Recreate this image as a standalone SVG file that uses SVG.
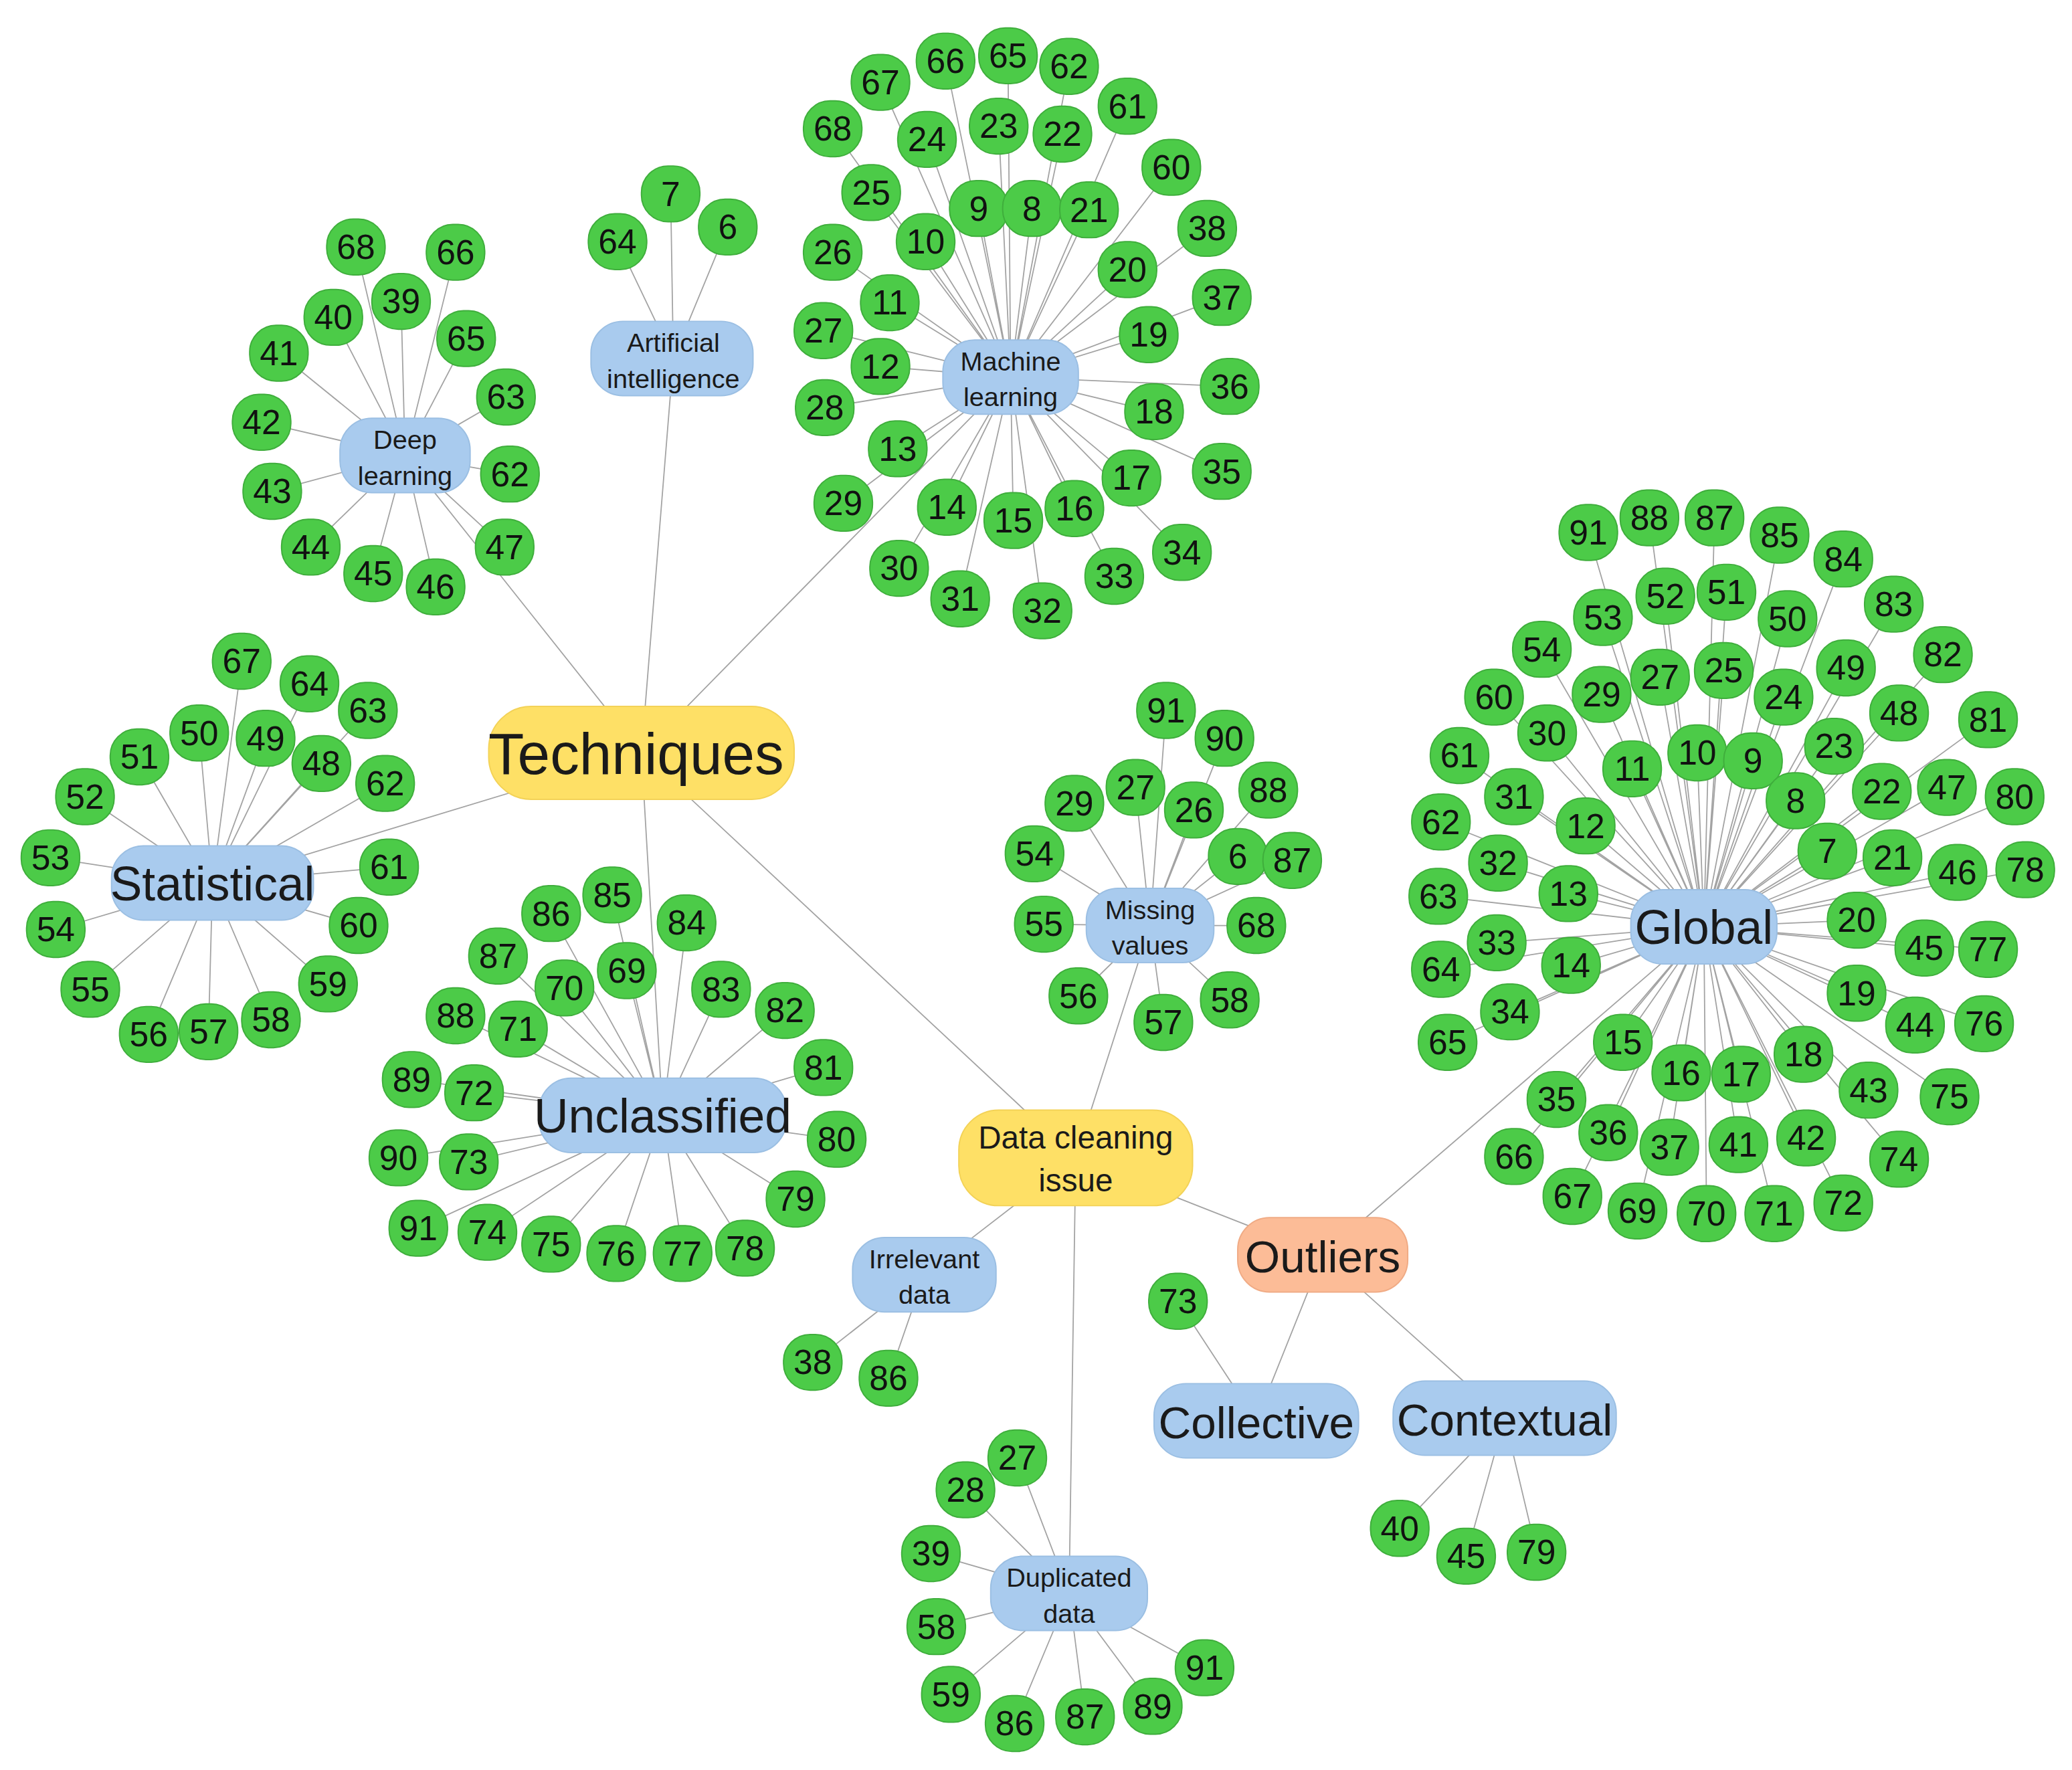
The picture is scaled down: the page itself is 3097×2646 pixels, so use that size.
<svg xmlns="http://www.w3.org/2000/svg" width="3097" height="2646" viewBox="0 0 3097 2646">
<style>
.l{fill:#4ccb48;stroke:#3fae3c;stroke-width:1}
.n{font-family:"Liberation Sans",Arial,sans-serif;font-size:26px;text-anchor:middle;fill:#111}
.b{fill:#a9cbee;stroke:#9bbfe3;stroke-width:1}
.y{fill:#fee066;stroke:#f3d257;stroke-width:1}
.o{fill:#fcbc97;stroke:#f0ab85;stroke-width:1}
.h{font-family:"Liberation Sans",Arial,sans-serif;text-anchor:middle;fill:#1a1a1a}
.c{stroke:#a3a3a3;stroke-width:0.9;fill:none}
</style>
<rect width="3097" height="2646" fill="#fff"/>
<g transform="scale(1.985)">
<g id="connectors" class="c">
<path d="M483 567L507 270M483 567L761 284M483 567L305 343M483 567L160 665M483 567L499 840M483 567L810 872M810 872L866 697M810 872L696 960M810 872L805 1200M810 872L996 945M996 945L1283 698M996 945L946 1070M996 945L1133 1068"/>
<path d="M507 270L465 182M507 270L505 146M507 270L548 171"/>
<path d="M761 284L663 62M761 284L712 46M761 284L759 42M761 284L805 50M761 284L849 80M761 284L627 97M761 284L698 105M761 284L752 95M761 284L800 101M761 284L882 126M761 284L656 145M761 284L737 157M761 284L777 157M761 284L820 158M761 284L909 172M761 284L697 182M761 284L627 190M761 284L849 203M761 284L920 224M761 284L670 228M761 284L620 249M761 284L865 252M761 284L663 276M761 284L926 291M761 284L621 307M761 284L869 310M761 284L676 338M761 284L920 355M761 284L852 360M761 284L635 379M761 284L713 382M761 284L763 392M761 284L809 383M761 284L890 416M761 284L677 428M761 284L723 451M761 284L839 434M761 284L785 460"/>
<path d="M305 343L268 186M305 343L343 190M305 343L302 227M305 343L251 239M305 343L351 255M305 343L210 266M305 343L381 299M305 343L197 318M305 343L384 357M305 343L205 370M305 343L380 412M305 343L234 412M305 343L281 432M305 343L328 442"/>
<path d="M160 665L182 498M160 665L233 515M160 665L277 535M160 665L150 552M160 665L200 556M160 665L105 570M160 665L242 575M160 665L290 590M160 665L64 600M160 665L38 646M160 665L293 653M160 665L42 700M160 665L270 697M160 665L68 745M160 665L247 741M160 665L112 779M160 665L157 777M160 665L204 768"/>
<path d="M499 840L415 688M499 840L461 674M499 840L517 695M499 840L375 720M499 840L425 744M499 840L472 731M499 840L543 745M499 840L591 761M499 840L343 765M499 840L390 775M499 840L620 804M499 840L310 813M499 840L357 823M499 840L630 858M499 840L300 872M499 840L353 875M499 840L599 903M499 840L315 925M499 840L367 928M499 840L561 940M499 840L415 937M499 840L464 944M499 840L514 944"/>
<path d="M866 697L878 535M866 697L922 556M866 697L855 593M866 697L809 605M866 697L899 610M866 697L955 595M866 697L779 643M866 697L932 645M866 697L973 648M866 697L786 696M866 697L946 697M866 697L812 750M866 697L926 753M866 697L876 770"/>
<path d="M696 960L612 1026M696 960L669 1038"/>
<path d="M805 1200L766 1098M805 1200L727 1122M805 1200L701 1170M805 1200L705 1225M805 1200L716 1276M805 1200L764 1298M805 1200L817 1293M805 1200L868 1285M805 1200L907 1256"/>
<path d="M946 1070L887 980M1133 1068L1054 1151M1133 1068L1104 1172M1133 1068L1157 1169"/>
<path d="M1283 698L1196 401M1283 698L1242 390M1283 698L1291 390M1283 698L1340 403M1283 698L1388 421M1283 698L1207 465M1283 698L1254 449M1283 698L1300 446M1283 698L1346 466M1283 698L1426 455M1283 698L1161 489M1283 698L1390 503M1283 698L1463 493M1283 698L1206 523M1283 698L1250 510M1283 698L1298 505M1283 698L1343 525M1283 698L1125 525M1283 698L1165 552M1283 698L1430 537M1283 698L1497 542M1283 698L1229 579M1283 698L1278 567M1283 698L1320 573M1283 698L1381 562M1283 698L1099 569M1283 698L1140 600M1283 698L1417 596M1283 698L1466 593M1283 698L1517 600M1283 698L1352 603M1283 698L1085 619M1283 698L1194 622M1283 698L1376 641M1283 698L1425 646M1283 698L1474 657M1283 698L1525 655M1283 698L1128 650M1283 698L1181 673M1283 698L1083 675M1283 698L1398 693M1283 698L1449 714M1283 698L1497 715M1283 698L1127 710M1283 698L1183 727M1283 698L1085 730M1283 698L1398 748M1283 698L1442 772M1283 698L1494 771M1283 698L1137 762M1283 698L1090 785M1283 698L1222 785M1283 698L1266 808M1283 698L1311 809M1283 698L1358 794M1283 698L1407 821M1283 698L1468 826M1283 698L1172 828M1283 698L1211 853M1283 698L1257 864M1283 698L1309 862M1283 698L1360 857M1283 698L1430 873M1283 698L1140 871M1283 698L1184 901M1283 698L1233 912M1283 698L1285 914M1283 698L1336 914M1283 698L1388 906"/>
</g>
<g id="hubs">
<g id="techniques"><rect class="y" x="368" y="532" width="230" height="70" rx="32"/><text class="h" x="479" y="583" font-size="44">Techniques</text></g>
<g id="ai"><rect class="b" x="445" y="242" width="122" height="56" rx="24"/><text class="h" x="507" y="265" font-size="20">Artificial</text><text class="h" x="507" y="292" font-size="20">intelligence</text></g>
<g id="ml"><rect class="b" x="710" y="256" width="102" height="56" rx="24"/><text class="h" x="761" y="279" font-size="20">Machine</text><text class="h" x="761" y="306" font-size="20">learning</text></g>
<g id="dl"><rect class="b" x="256" y="315" width="98" height="56" rx="24"/><text class="h" x="305" y="338" font-size="20">Deep</text><text class="h" x="305" y="365" font-size="20">learning</text></g>
<g id="statistical"><rect class="b" x="84" y="637" width="152" height="56" rx="24"/><text class="h" x="160" y="678" font-size="36">Statistical</text></g>
<g id="unclassified"><rect class="b" x="406" y="812" width="186" height="56" rx="24"/><text class="h" x="499" y="853" font-size="36">Unclassified</text></g>
<g id="dci"><rect class="y" x="722" y="836" width="176" height="72" rx="30"/><text class="h" x="810" y="865" font-size="24">Data cleaning</text><text class="h" x="810" y="897" font-size="24">issue</text></g>
<g id="missing"><rect class="b" x="818" y="669" width="96" height="56" rx="24"/><text class="h" x="866" y="692" font-size="20">Missing</text><text class="h" x="866" y="719" font-size="20">values</text></g>
<g id="irrelevant"><rect class="b" x="642" y="932" width="108" height="56" rx="24"/><text class="h" x="696" y="955" font-size="20">Irrelevant</text><text class="h" x="696" y="982" font-size="20">data</text></g>
<g id="duplicated"><rect class="b" x="746" y="1172" width="118" height="56" rx="24"/><text class="h" x="805" y="1195" font-size="20">Duplicated</text><text class="h" x="805" y="1222" font-size="20">data</text></g>
<g id="outliers"><rect class="o" x="932" y="917" width="128" height="56" rx="24"/><text class="h" x="996" y="958" font-size="34">Outliers</text></g>
<g id="global"><rect class="b" x="1228" y="670" width="110" height="56" rx="24"/><text class="h" x="1283" y="711" font-size="36">Global</text></g>
<g id="collective"><rect class="b" x="869" y="1042" width="154" height="56" rx="24"/><text class="h" x="946" y="1083" font-size="34">Collective</text></g>
<g id="contextual"><rect class="b" x="1049" y="1040" width="168" height="56" rx="24"/><text class="h" x="1133" y="1081" font-size="34">Contextual</text></g>
</g>
<g id="leaves">
<g id="ai-64" transform="translate(465,182)"><rect class="l" x="-22" y="-21" width="44" height="42" rx="20"/><text class="n" y="9">64</text></g>
<g id="ai-7" transform="translate(505,146)"><rect class="l" x="-22" y="-21" width="44" height="42" rx="20"/><text class="n" y="9">7</text></g>
<g id="ai-6" transform="translate(548,171)"><rect class="l" x="-22" y="-21" width="44" height="42" rx="20"/><text class="n" y="9">6</text></g>
<g id="ml-67" transform="translate(663,62)"><rect class="l" x="-22" y="-21" width="44" height="42" rx="20"/><text class="n" y="9">67</text></g>
<g id="ml-66" transform="translate(712,46)"><rect class="l" x="-22" y="-21" width="44" height="42" rx="20"/><text class="n" y="9">66</text></g>
<g id="ml-65" transform="translate(759,42)"><rect class="l" x="-22" y="-21" width="44" height="42" rx="20"/><text class="n" y="9">65</text></g>
<g id="ml-62" transform="translate(805,50)"><rect class="l" x="-22" y="-21" width="44" height="42" rx="20"/><text class="n" y="9">62</text></g>
<g id="ml-61" transform="translate(849,80)"><rect class="l" x="-22" y="-21" width="44" height="42" rx="20"/><text class="n" y="9">61</text></g>
<g id="ml-68" transform="translate(627,97)"><rect class="l" x="-22" y="-21" width="44" height="42" rx="20"/><text class="n" y="9">68</text></g>
<g id="ml-24" transform="translate(698,105)"><rect class="l" x="-22" y="-21" width="44" height="42" rx="20"/><text class="n" y="9">24</text></g>
<g id="ml-23" transform="translate(752,95)"><rect class="l" x="-22" y="-21" width="44" height="42" rx="20"/><text class="n" y="9">23</text></g>
<g id="ml-22" transform="translate(800,101)"><rect class="l" x="-22" y="-21" width="44" height="42" rx="20"/><text class="n" y="9">22</text></g>
<g id="ml-60" transform="translate(882,126)"><rect class="l" x="-22" y="-21" width="44" height="42" rx="20"/><text class="n" y="9">60</text></g>
<g id="ml-25" transform="translate(656,145)"><rect class="l" x="-22" y="-21" width="44" height="42" rx="20"/><text class="n" y="9">25</text></g>
<g id="ml-9" transform="translate(737,157)"><rect class="l" x="-22" y="-21" width="44" height="42" rx="20"/><text class="n" y="9">9</text></g>
<g id="ml-8" transform="translate(777,157)"><rect class="l" x="-22" y="-21" width="44" height="42" rx="20"/><text class="n" y="9">8</text></g>
<g id="ml-21" transform="translate(820,158)"><rect class="l" x="-22" y="-21" width="44" height="42" rx="20"/><text class="n" y="9">21</text></g>
<g id="ml-38" transform="translate(909,172)"><rect class="l" x="-22" y="-21" width="44" height="42" rx="20"/><text class="n" y="9">38</text></g>
<g id="ml-10" transform="translate(697,182)"><rect class="l" x="-22" y="-21" width="44" height="42" rx="20"/><text class="n" y="9">10</text></g>
<g id="ml-26" transform="translate(627,190)"><rect class="l" x="-22" y="-21" width="44" height="42" rx="20"/><text class="n" y="9">26</text></g>
<g id="ml-20" transform="translate(849,203)"><rect class="l" x="-22" y="-21" width="44" height="42" rx="20"/><text class="n" y="9">20</text></g>
<g id="ml-37" transform="translate(920,224)"><rect class="l" x="-22" y="-21" width="44" height="42" rx="20"/><text class="n" y="9">37</text></g>
<g id="ml-11" transform="translate(670,228)"><rect class="l" x="-22" y="-21" width="44" height="42" rx="20"/><text class="n" y="9">11</text></g>
<g id="ml-27" transform="translate(620,249)"><rect class="l" x="-22" y="-21" width="44" height="42" rx="20"/><text class="n" y="9">27</text></g>
<g id="ml-19" transform="translate(865,252)"><rect class="l" x="-22" y="-21" width="44" height="42" rx="20"/><text class="n" y="9">19</text></g>
<g id="ml-12" transform="translate(663,276)"><rect class="l" x="-22" y="-21" width="44" height="42" rx="20"/><text class="n" y="9">12</text></g>
<g id="ml-36" transform="translate(926,291)"><rect class="l" x="-22" y="-21" width="44" height="42" rx="20"/><text class="n" y="9">36</text></g>
<g id="ml-28" transform="translate(621,307)"><rect class="l" x="-22" y="-21" width="44" height="42" rx="20"/><text class="n" y="9">28</text></g>
<g id="ml-18" transform="translate(869,310)"><rect class="l" x="-22" y="-21" width="44" height="42" rx="20"/><text class="n" y="9">18</text></g>
<g id="ml-13" transform="translate(676,338)"><rect class="l" x="-22" y="-21" width="44" height="42" rx="20"/><text class="n" y="9">13</text></g>
<g id="ml-35" transform="translate(920,355)"><rect class="l" x="-22" y="-21" width="44" height="42" rx="20"/><text class="n" y="9">35</text></g>
<g id="ml-17" transform="translate(852,360)"><rect class="l" x="-22" y="-21" width="44" height="42" rx="20"/><text class="n" y="9">17</text></g>
<g id="ml-29" transform="translate(635,379)"><rect class="l" x="-22" y="-21" width="44" height="42" rx="20"/><text class="n" y="9">29</text></g>
<g id="ml-14" transform="translate(713,382)"><rect class="l" x="-22" y="-21" width="44" height="42" rx="20"/><text class="n" y="9">14</text></g>
<g id="ml-15" transform="translate(763,392)"><rect class="l" x="-22" y="-21" width="44" height="42" rx="20"/><text class="n" y="9">15</text></g>
<g id="ml-16" transform="translate(809,383)"><rect class="l" x="-22" y="-21" width="44" height="42" rx="20"/><text class="n" y="9">16</text></g>
<g id="ml-34" transform="translate(890,416)"><rect class="l" x="-22" y="-21" width="44" height="42" rx="20"/><text class="n" y="9">34</text></g>
<g id="ml-30" transform="translate(677,428)"><rect class="l" x="-22" y="-21" width="44" height="42" rx="20"/><text class="n" y="9">30</text></g>
<g id="ml-31" transform="translate(723,451)"><rect class="l" x="-22" y="-21" width="44" height="42" rx="20"/><text class="n" y="9">31</text></g>
<g id="ml-33" transform="translate(839,434)"><rect class="l" x="-22" y="-21" width="44" height="42" rx="20"/><text class="n" y="9">33</text></g>
<g id="ml-32" transform="translate(785,460)"><rect class="l" x="-22" y="-21" width="44" height="42" rx="20"/><text class="n" y="9">32</text></g>
<g id="dl-68" transform="translate(268,186)"><rect class="l" x="-22" y="-21" width="44" height="42" rx="20"/><text class="n" y="9">68</text></g>
<g id="dl-66" transform="translate(343,190)"><rect class="l" x="-22" y="-21" width="44" height="42" rx="20"/><text class="n" y="9">66</text></g>
<g id="dl-39" transform="translate(302,227)"><rect class="l" x="-22" y="-21" width="44" height="42" rx="20"/><text class="n" y="9">39</text></g>
<g id="dl-40" transform="translate(251,239)"><rect class="l" x="-22" y="-21" width="44" height="42" rx="20"/><text class="n" y="9">40</text></g>
<g id="dl-65" transform="translate(351,255)"><rect class="l" x="-22" y="-21" width="44" height="42" rx="20"/><text class="n" y="9">65</text></g>
<g id="dl-41" transform="translate(210,266)"><rect class="l" x="-22" y="-21" width="44" height="42" rx="20"/><text class="n" y="9">41</text></g>
<g id="dl-63" transform="translate(381,299)"><rect class="l" x="-22" y="-21" width="44" height="42" rx="20"/><text class="n" y="9">63</text></g>
<g id="dl-42" transform="translate(197,318)"><rect class="l" x="-22" y="-21" width="44" height="42" rx="20"/><text class="n" y="9">42</text></g>
<g id="dl-62" transform="translate(384,357)"><rect class="l" x="-22" y="-21" width="44" height="42" rx="20"/><text class="n" y="9">62</text></g>
<g id="dl-43" transform="translate(205,370)"><rect class="l" x="-22" y="-21" width="44" height="42" rx="20"/><text class="n" y="9">43</text></g>
<g id="dl-47" transform="translate(380,412)"><rect class="l" x="-22" y="-21" width="44" height="42" rx="20"/><text class="n" y="9">47</text></g>
<g id="dl-44" transform="translate(234,412)"><rect class="l" x="-22" y="-21" width="44" height="42" rx="20"/><text class="n" y="9">44</text></g>
<g id="dl-45" transform="translate(281,432)"><rect class="l" x="-22" y="-21" width="44" height="42" rx="20"/><text class="n" y="9">45</text></g>
<g id="dl-46" transform="translate(328,442)"><rect class="l" x="-22" y="-21" width="44" height="42" rx="20"/><text class="n" y="9">46</text></g>
<g id="st-67" transform="translate(182,498)"><rect class="l" x="-22" y="-21" width="44" height="42" rx="20"/><text class="n" y="9">67</text></g>
<g id="st-64" transform="translate(233,515)"><rect class="l" x="-22" y="-21" width="44" height="42" rx="20"/><text class="n" y="9">64</text></g>
<g id="st-63" transform="translate(277,535)"><rect class="l" x="-22" y="-21" width="44" height="42" rx="20"/><text class="n" y="9">63</text></g>
<g id="st-50" transform="translate(150,552)"><rect class="l" x="-22" y="-21" width="44" height="42" rx="20"/><text class="n" y="9">50</text></g>
<g id="st-49" transform="translate(200,556)"><rect class="l" x="-22" y="-21" width="44" height="42" rx="20"/><text class="n" y="9">49</text></g>
<g id="st-51" transform="translate(105,570)"><rect class="l" x="-22" y="-21" width="44" height="42" rx="20"/><text class="n" y="9">51</text></g>
<g id="st-48" transform="translate(242,575)"><rect class="l" x="-22" y="-21" width="44" height="42" rx="20"/><text class="n" y="9">48</text></g>
<g id="st-62" transform="translate(290,590)"><rect class="l" x="-22" y="-21" width="44" height="42" rx="20"/><text class="n" y="9">62</text></g>
<g id="st-52" transform="translate(64,600)"><rect class="l" x="-22" y="-21" width="44" height="42" rx="20"/><text class="n" y="9">52</text></g>
<g id="st-53" transform="translate(38,646)"><rect class="l" x="-22" y="-21" width="44" height="42" rx="20"/><text class="n" y="9">53</text></g>
<g id="st-61" transform="translate(293,653)"><rect class="l" x="-22" y="-21" width="44" height="42" rx="20"/><text class="n" y="9">61</text></g>
<g id="st-54" transform="translate(42,700)"><rect class="l" x="-22" y="-21" width="44" height="42" rx="20"/><text class="n" y="9">54</text></g>
<g id="st-60" transform="translate(270,697)"><rect class="l" x="-22" y="-21" width="44" height="42" rx="20"/><text class="n" y="9">60</text></g>
<g id="st-55" transform="translate(68,745)"><rect class="l" x="-22" y="-21" width="44" height="42" rx="20"/><text class="n" y="9">55</text></g>
<g id="st-59" transform="translate(247,741)"><rect class="l" x="-22" y="-21" width="44" height="42" rx="20"/><text class="n" y="9">59</text></g>
<g id="st-56" transform="translate(112,779)"><rect class="l" x="-22" y="-21" width="44" height="42" rx="20"/><text class="n" y="9">56</text></g>
<g id="st-57" transform="translate(157,777)"><rect class="l" x="-22" y="-21" width="44" height="42" rx="20"/><text class="n" y="9">57</text></g>
<g id="st-58" transform="translate(204,768)"><rect class="l" x="-22" y="-21" width="44" height="42" rx="20"/><text class="n" y="9">58</text></g>
<g id="un-86" transform="translate(415,688)"><rect class="l" x="-22" y="-21" width="44" height="42" rx="20"/><text class="n" y="9">86</text></g>
<g id="un-85" transform="translate(461,674)"><rect class="l" x="-22" y="-21" width="44" height="42" rx="20"/><text class="n" y="9">85</text></g>
<g id="un-84" transform="translate(517,695)"><rect class="l" x="-22" y="-21" width="44" height="42" rx="20"/><text class="n" y="9">84</text></g>
<g id="un-87" transform="translate(375,720)"><rect class="l" x="-22" y="-21" width="44" height="42" rx="20"/><text class="n" y="9">87</text></g>
<g id="un-70" transform="translate(425,744)"><rect class="l" x="-22" y="-21" width="44" height="42" rx="20"/><text class="n" y="9">70</text></g>
<g id="un-69" transform="translate(472,731)"><rect class="l" x="-22" y="-21" width="44" height="42" rx="20"/><text class="n" y="9">69</text></g>
<g id="un-83" transform="translate(543,745)"><rect class="l" x="-22" y="-21" width="44" height="42" rx="20"/><text class="n" y="9">83</text></g>
<g id="un-82" transform="translate(591,761)"><rect class="l" x="-22" y="-21" width="44" height="42" rx="20"/><text class="n" y="9">82</text></g>
<g id="un-88" transform="translate(343,765)"><rect class="l" x="-22" y="-21" width="44" height="42" rx="20"/><text class="n" y="9">88</text></g>
<g id="un-71" transform="translate(390,775)"><rect class="l" x="-22" y="-21" width="44" height="42" rx="20"/><text class="n" y="9">71</text></g>
<g id="un-81" transform="translate(620,804)"><rect class="l" x="-22" y="-21" width="44" height="42" rx="20"/><text class="n" y="9">81</text></g>
<g id="un-89" transform="translate(310,813)"><rect class="l" x="-22" y="-21" width="44" height="42" rx="20"/><text class="n" y="9">89</text></g>
<g id="un-72" transform="translate(357,823)"><rect class="l" x="-22" y="-21" width="44" height="42" rx="20"/><text class="n" y="9">72</text></g>
<g id="un-80" transform="translate(630,858)"><rect class="l" x="-22" y="-21" width="44" height="42" rx="20"/><text class="n" y="9">80</text></g>
<g id="un-90" transform="translate(300,872)"><rect class="l" x="-22" y="-21" width="44" height="42" rx="20"/><text class="n" y="9">90</text></g>
<g id="un-73" transform="translate(353,875)"><rect class="l" x="-22" y="-21" width="44" height="42" rx="20"/><text class="n" y="9">73</text></g>
<g id="un-79" transform="translate(599,903)"><rect class="l" x="-22" y="-21" width="44" height="42" rx="20"/><text class="n" y="9">79</text></g>
<g id="un-91" transform="translate(315,925)"><rect class="l" x="-22" y="-21" width="44" height="42" rx="20"/><text class="n" y="9">91</text></g>
<g id="un-74" transform="translate(367,928)"><rect class="l" x="-22" y="-21" width="44" height="42" rx="20"/><text class="n" y="9">74</text></g>
<g id="un-78" transform="translate(561,940)"><rect class="l" x="-22" y="-21" width="44" height="42" rx="20"/><text class="n" y="9">78</text></g>
<g id="un-75" transform="translate(415,937)"><rect class="l" x="-22" y="-21" width="44" height="42" rx="20"/><text class="n" y="9">75</text></g>
<g id="un-76" transform="translate(464,944)"><rect class="l" x="-22" y="-21" width="44" height="42" rx="20"/><text class="n" y="9">76</text></g>
<g id="un-77" transform="translate(514,944)"><rect class="l" x="-22" y="-21" width="44" height="42" rx="20"/><text class="n" y="9">77</text></g>
<g id="mv-91" transform="translate(878,535)"><rect class="l" x="-22" y="-21" width="44" height="42" rx="20"/><text class="n" y="9">91</text></g>
<g id="mv-90" transform="translate(922,556)"><rect class="l" x="-22" y="-21" width="44" height="42" rx="20"/><text class="n" y="9">90</text></g>
<g id="mv-27" transform="translate(855,593)"><rect class="l" x="-22" y="-21" width="44" height="42" rx="20"/><text class="n" y="9">27</text></g>
<g id="mv-29" transform="translate(809,605)"><rect class="l" x="-22" y="-21" width="44" height="42" rx="20"/><text class="n" y="9">29</text></g>
<g id="mv-26" transform="translate(899,610)"><rect class="l" x="-22" y="-21" width="44" height="42" rx="20"/><text class="n" y="9">26</text></g>
<g id="mv-88" transform="translate(955,595)"><rect class="l" x="-22" y="-21" width="44" height="42" rx="20"/><text class="n" y="9">88</text></g>
<g id="mv-54" transform="translate(779,643)"><rect class="l" x="-22" y="-21" width="44" height="42" rx="20"/><text class="n" y="9">54</text></g>
<g id="mv-6" transform="translate(932,645)"><rect class="l" x="-22" y="-21" width="44" height="42" rx="20"/><text class="n" y="9">6</text></g>
<g id="mv-87" transform="translate(973,648)"><rect class="l" x="-22" y="-21" width="44" height="42" rx="20"/><text class="n" y="9">87</text></g>
<g id="mv-55" transform="translate(786,696)"><rect class="l" x="-22" y="-21" width="44" height="42" rx="20"/><text class="n" y="9">55</text></g>
<g id="mv-68" transform="translate(946,697)"><rect class="l" x="-22" y="-21" width="44" height="42" rx="20"/><text class="n" y="9">68</text></g>
<g id="mv-56" transform="translate(812,750)"><rect class="l" x="-22" y="-21" width="44" height="42" rx="20"/><text class="n" y="9">56</text></g>
<g id="mv-58" transform="translate(926,753)"><rect class="l" x="-22" y="-21" width="44" height="42" rx="20"/><text class="n" y="9">58</text></g>
<g id="mv-57" transform="translate(876,770)"><rect class="l" x="-22" y="-21" width="44" height="42" rx="20"/><text class="n" y="9">57</text></g>
<g id="ir-38" transform="translate(612,1026)"><rect class="l" x="-22" y="-21" width="44" height="42" rx="20"/><text class="n" y="9">38</text></g>
<g id="ir-86" transform="translate(669,1038)"><rect class="l" x="-22" y="-21" width="44" height="42" rx="20"/><text class="n" y="9">86</text></g>
<g id="du-27" transform="translate(766,1098)"><rect class="l" x="-22" y="-21" width="44" height="42" rx="20"/><text class="n" y="9">27</text></g>
<g id="du-28" transform="translate(727,1122)"><rect class="l" x="-22" y="-21" width="44" height="42" rx="20"/><text class="n" y="9">28</text></g>
<g id="du-39" transform="translate(701,1170)"><rect class="l" x="-22" y="-21" width="44" height="42" rx="20"/><text class="n" y="9">39</text></g>
<g id="du-58" transform="translate(705,1225)"><rect class="l" x="-22" y="-21" width="44" height="42" rx="20"/><text class="n" y="9">58</text></g>
<g id="du-59" transform="translate(716,1276)"><rect class="l" x="-22" y="-21" width="44" height="42" rx="20"/><text class="n" y="9">59</text></g>
<g id="du-86" transform="translate(764,1298)"><rect class="l" x="-22" y="-21" width="44" height="42" rx="20"/><text class="n" y="9">86</text></g>
<g id="du-87" transform="translate(817,1293)"><rect class="l" x="-22" y="-21" width="44" height="42" rx="20"/><text class="n" y="9">87</text></g>
<g id="du-89" transform="translate(868,1285)"><rect class="l" x="-22" y="-21" width="44" height="42" rx="20"/><text class="n" y="9">89</text></g>
<g id="du-91" transform="translate(907,1256)"><rect class="l" x="-22" y="-21" width="44" height="42" rx="20"/><text class="n" y="9">91</text></g>
<g id="co-73" transform="translate(887,980)"><rect class="l" x="-22" y="-21" width="44" height="42" rx="20"/><text class="n" y="9">73</text></g>
<g id="cx-40" transform="translate(1054,1151)"><rect class="l" x="-22" y="-21" width="44" height="42" rx="20"/><text class="n" y="9">40</text></g>
<g id="cx-45" transform="translate(1104,1172)"><rect class="l" x="-22" y="-21" width="44" height="42" rx="20"/><text class="n" y="9">45</text></g>
<g id="cx-79" transform="translate(1157,1169)"><rect class="l" x="-22" y="-21" width="44" height="42" rx="20"/><text class="n" y="9">79</text></g>
<g id="gl-91" transform="translate(1196,401)"><rect class="l" x="-22" y="-21" width="44" height="42" rx="20"/><text class="n" y="9">91</text></g>
<g id="gl-88" transform="translate(1242,390)"><rect class="l" x="-22" y="-21" width="44" height="42" rx="20"/><text class="n" y="9">88</text></g>
<g id="gl-87" transform="translate(1291,390)"><rect class="l" x="-22" y="-21" width="44" height="42" rx="20"/><text class="n" y="9">87</text></g>
<g id="gl-85" transform="translate(1340,403)"><rect class="l" x="-22" y="-21" width="44" height="42" rx="20"/><text class="n" y="9">85</text></g>
<g id="gl-84" transform="translate(1388,421)"><rect class="l" x="-22" y="-21" width="44" height="42" rx="20"/><text class="n" y="9">84</text></g>
<g id="gl-53" transform="translate(1207,465)"><rect class="l" x="-22" y="-21" width="44" height="42" rx="20"/><text class="n" y="9">53</text></g>
<g id="gl-52" transform="translate(1254,449)"><rect class="l" x="-22" y="-21" width="44" height="42" rx="20"/><text class="n" y="9">52</text></g>
<g id="gl-51" transform="translate(1300,446)"><rect class="l" x="-22" y="-21" width="44" height="42" rx="20"/><text class="n" y="9">51</text></g>
<g id="gl-50" transform="translate(1346,466)"><rect class="l" x="-22" y="-21" width="44" height="42" rx="20"/><text class="n" y="9">50</text></g>
<g id="gl-83" transform="translate(1426,455)"><rect class="l" x="-22" y="-21" width="44" height="42" rx="20"/><text class="n" y="9">83</text></g>
<g id="gl-54" transform="translate(1161,489)"><rect class="l" x="-22" y="-21" width="44" height="42" rx="20"/><text class="n" y="9">54</text></g>
<g id="gl-49" transform="translate(1390,503)"><rect class="l" x="-22" y="-21" width="44" height="42" rx="20"/><text class="n" y="9">49</text></g>
<g id="gl-82" transform="translate(1463,493)"><rect class="l" x="-22" y="-21" width="44" height="42" rx="20"/><text class="n" y="9">82</text></g>
<g id="gl-29" transform="translate(1206,523)"><rect class="l" x="-22" y="-21" width="44" height="42" rx="20"/><text class="n" y="9">29</text></g>
<g id="gl-27" transform="translate(1250,510)"><rect class="l" x="-22" y="-21" width="44" height="42" rx="20"/><text class="n" y="9">27</text></g>
<g id="gl-25" transform="translate(1298,505)"><rect class="l" x="-22" y="-21" width="44" height="42" rx="20"/><text class="n" y="9">25</text></g>
<g id="gl-24" transform="translate(1343,525)"><rect class="l" x="-22" y="-21" width="44" height="42" rx="20"/><text class="n" y="9">24</text></g>
<g id="gl-60" transform="translate(1125,525)"><rect class="l" x="-22" y="-21" width="44" height="42" rx="20"/><text class="n" y="9">60</text></g>
<g id="gl-30" transform="translate(1165,552)"><rect class="l" x="-22" y="-21" width="44" height="42" rx="20"/><text class="n" y="9">30</text></g>
<g id="gl-48" transform="translate(1430,537)"><rect class="l" x="-22" y="-21" width="44" height="42" rx="20"/><text class="n" y="9">48</text></g>
<g id="gl-81" transform="translate(1497,542)"><rect class="l" x="-22" y="-21" width="44" height="42" rx="20"/><text class="n" y="9">81</text></g>
<g id="gl-11" transform="translate(1229,579)"><rect class="l" x="-22" y="-21" width="44" height="42" rx="20"/><text class="n" y="9">11</text></g>
<g id="gl-10" transform="translate(1278,567)"><rect class="l" x="-22" y="-21" width="44" height="42" rx="20"/><text class="n" y="9">10</text></g>
<g id="gl-9" transform="translate(1320,573)"><rect class="l" x="-22" y="-21" width="44" height="42" rx="20"/><text class="n" y="9">9</text></g>
<g id="gl-23" transform="translate(1381,562)"><rect class="l" x="-22" y="-21" width="44" height="42" rx="20"/><text class="n" y="9">23</text></g>
<g id="gl-61" transform="translate(1099,569)"><rect class="l" x="-22" y="-21" width="44" height="42" rx="20"/><text class="n" y="9">61</text></g>
<g id="gl-31" transform="translate(1140,600)"><rect class="l" x="-22" y="-21" width="44" height="42" rx="20"/><text class="n" y="9">31</text></g>
<g id="gl-22" transform="translate(1417,596)"><rect class="l" x="-22" y="-21" width="44" height="42" rx="20"/><text class="n" y="9">22</text></g>
<g id="gl-47" transform="translate(1466,593)"><rect class="l" x="-22" y="-21" width="44" height="42" rx="20"/><text class="n" y="9">47</text></g>
<g id="gl-80" transform="translate(1517,600)"><rect class="l" x="-22" y="-21" width="44" height="42" rx="20"/><text class="n" y="9">80</text></g>
<g id="gl-8" transform="translate(1352,603)"><rect class="l" x="-22" y="-21" width="44" height="42" rx="20"/><text class="n" y="9">8</text></g>
<g id="gl-62" transform="translate(1085,619)"><rect class="l" x="-22" y="-21" width="44" height="42" rx="20"/><text class="n" y="9">62</text></g>
<g id="gl-12" transform="translate(1194,622)"><rect class="l" x="-22" y="-21" width="44" height="42" rx="20"/><text class="n" y="9">12</text></g>
<g id="gl-7" transform="translate(1376,641)"><rect class="l" x="-22" y="-21" width="44" height="42" rx="20"/><text class="n" y="9">7</text></g>
<g id="gl-21" transform="translate(1425,646)"><rect class="l" x="-22" y="-21" width="44" height="42" rx="20"/><text class="n" y="9">21</text></g>
<g id="gl-46" transform="translate(1474,657)"><rect class="l" x="-22" y="-21" width="44" height="42" rx="20"/><text class="n" y="9">46</text></g>
<g id="gl-78" transform="translate(1525,655)"><rect class="l" x="-22" y="-21" width="44" height="42" rx="20"/><text class="n" y="9">78</text></g>
<g id="gl-32" transform="translate(1128,650)"><rect class="l" x="-22" y="-21" width="44" height="42" rx="20"/><text class="n" y="9">32</text></g>
<g id="gl-13" transform="translate(1181,673)"><rect class="l" x="-22" y="-21" width="44" height="42" rx="20"/><text class="n" y="9">13</text></g>
<g id="gl-63" transform="translate(1083,675)"><rect class="l" x="-22" y="-21" width="44" height="42" rx="20"/><text class="n" y="9">63</text></g>
<g id="gl-20" transform="translate(1398,693)"><rect class="l" x="-22" y="-21" width="44" height="42" rx="20"/><text class="n" y="9">20</text></g>
<g id="gl-45" transform="translate(1449,714)"><rect class="l" x="-22" y="-21" width="44" height="42" rx="20"/><text class="n" y="9">45</text></g>
<g id="gl-77" transform="translate(1497,715)"><rect class="l" x="-22" y="-21" width="44" height="42" rx="20"/><text class="n" y="9">77</text></g>
<g id="gl-33" transform="translate(1127,710)"><rect class="l" x="-22" y="-21" width="44" height="42" rx="20"/><text class="n" y="9">33</text></g>
<g id="gl-14" transform="translate(1183,727)"><rect class="l" x="-22" y="-21" width="44" height="42" rx="20"/><text class="n" y="9">14</text></g>
<g id="gl-64" transform="translate(1085,730)"><rect class="l" x="-22" y="-21" width="44" height="42" rx="20"/><text class="n" y="9">64</text></g>
<g id="gl-19" transform="translate(1398,748)"><rect class="l" x="-22" y="-21" width="44" height="42" rx="20"/><text class="n" y="9">19</text></g>
<g id="gl-44" transform="translate(1442,772)"><rect class="l" x="-22" y="-21" width="44" height="42" rx="20"/><text class="n" y="9">44</text></g>
<g id="gl-76" transform="translate(1494,771)"><rect class="l" x="-22" y="-21" width="44" height="42" rx="20"/><text class="n" y="9">76</text></g>
<g id="gl-34" transform="translate(1137,762)"><rect class="l" x="-22" y="-21" width="44" height="42" rx="20"/><text class="n" y="9">34</text></g>
<g id="gl-65" transform="translate(1090,785)"><rect class="l" x="-22" y="-21" width="44" height="42" rx="20"/><text class="n" y="9">65</text></g>
<g id="gl-15" transform="translate(1222,785)"><rect class="l" x="-22" y="-21" width="44" height="42" rx="20"/><text class="n" y="9">15</text></g>
<g id="gl-16" transform="translate(1266,808)"><rect class="l" x="-22" y="-21" width="44" height="42" rx="20"/><text class="n" y="9">16</text></g>
<g id="gl-17" transform="translate(1311,809)"><rect class="l" x="-22" y="-21" width="44" height="42" rx="20"/><text class="n" y="9">17</text></g>
<g id="gl-18" transform="translate(1358,794)"><rect class="l" x="-22" y="-21" width="44" height="42" rx="20"/><text class="n" y="9">18</text></g>
<g id="gl-43" transform="translate(1407,821)"><rect class="l" x="-22" y="-21" width="44" height="42" rx="20"/><text class="n" y="9">43</text></g>
<g id="gl-75" transform="translate(1468,826)"><rect class="l" x="-22" y="-21" width="44" height="42" rx="20"/><text class="n" y="9">75</text></g>
<g id="gl-35" transform="translate(1172,828)"><rect class="l" x="-22" y="-21" width="44" height="42" rx="20"/><text class="n" y="9">35</text></g>
<g id="gl-36" transform="translate(1211,853)"><rect class="l" x="-22" y="-21" width="44" height="42" rx="20"/><text class="n" y="9">36</text></g>
<g id="gl-37" transform="translate(1257,864)"><rect class="l" x="-22" y="-21" width="44" height="42" rx="20"/><text class="n" y="9">37</text></g>
<g id="gl-41" transform="translate(1309,862)"><rect class="l" x="-22" y="-21" width="44" height="42" rx="20"/><text class="n" y="9">41</text></g>
<g id="gl-42" transform="translate(1360,857)"><rect class="l" x="-22" y="-21" width="44" height="42" rx="20"/><text class="n" y="9">42</text></g>
<g id="gl-74" transform="translate(1430,873)"><rect class="l" x="-22" y="-21" width="44" height="42" rx="20"/><text class="n" y="9">74</text></g>
<g id="gl-66" transform="translate(1140,871)"><rect class="l" x="-22" y="-21" width="44" height="42" rx="20"/><text class="n" y="9">66</text></g>
<g id="gl-67" transform="translate(1184,901)"><rect class="l" x="-22" y="-21" width="44" height="42" rx="20"/><text class="n" y="9">67</text></g>
<g id="gl-69" transform="translate(1233,912)"><rect class="l" x="-22" y="-21" width="44" height="42" rx="20"/><text class="n" y="9">69</text></g>
<g id="gl-70" transform="translate(1285,914)"><rect class="l" x="-22" y="-21" width="44" height="42" rx="20"/><text class="n" y="9">70</text></g>
<g id="gl-71" transform="translate(1336,914)"><rect class="l" x="-22" y="-21" width="44" height="42" rx="20"/><text class="n" y="9">71</text></g>
<g id="gl-72" transform="translate(1388,906)"><rect class="l" x="-22" y="-21" width="44" height="42" rx="20"/><text class="n" y="9">72</text></g>
</g>
</g>
</svg>
